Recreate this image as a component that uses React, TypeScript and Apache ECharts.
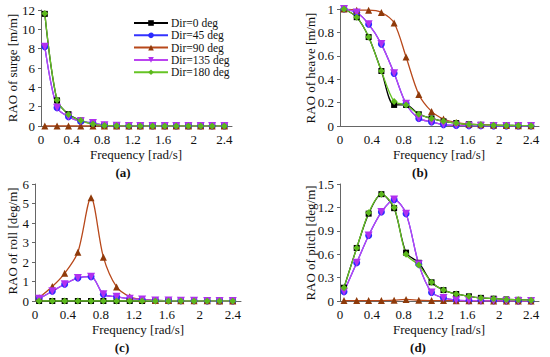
import React, { useEffect, useRef } from "react";
import * as echarts from "echarts";

const freq = [0.05, 0.21, 0.36, 0.52, 0.68, 0.83, 0.99, 1.15, 1.30, 1.46, 1.62, 1.77, 1.93, 2.09, 2.24, 2.40];
const dirNames = ["Dir=0 deg", "Dir=45 deg", "Dir=90 deg", "Dir=135 deg", "Dir=180 deg"];

// Surge RAO [m/m]
const surge0 = [11.6, 2.65, 1.22, 0.57, 0.22, 0.06, 0.02, 0.01, 0, 0, 0, 0, 0, 0, 0, 0];
const surge45 = [8.2, 1.9, 0.96, 0.48, 0.3, 0.07, 0.02, 0.01, 0, 0, 0, 0, 0, 0, 0, 0];
const surge90 = [0, 0, 0, 0, 0, 0, 0, 0, 0, 0, 0, 0, 0, 0, 0, 0];
const surge135 = [8.2, 1.88, 0.95, 0.48, 0.32, 0.07, 0.02, 0.01, 0, 0, 0, 0, 0, 0, 0, 0];
const surge180 = [11.65, 2.68, 1.2, 0.56, 0.2, 0.06, 0.02, 0.01, 0, 0, 0, 0, 0, 0, 0, 0];

// Heave RAO [m/m]
const heave0 = [1.0, 0.93, 0.76, 0.47, 0.18, 0.18, 0.1, 0.065, 0.04, 0.025, 0.015, 0.01, 0.007, 0.005, 0.004, 0.003];
const heave45 = [1.0, 0.97, 0.87, 0.7, 0.45, 0.19, 0.065, 0.035, 0.012, 0.005, 0.003, 0.002, 0.001, 0.001, 0, 0];
const heave90 = [1.0, 0.99, 0.99, 0.97, 0.88, 0.59, 0.27, 0.125, 0.06, 0.03, 0.015, 0.01, 0.006, 0.004, 0.003, 0.002];
const heave135 = [1.0, 0.97, 0.87, 0.7, 0.45, 0.19, 0.065, 0.035, 0.012, 0.005, 0.003, 0.002, 0.001, 0.001, 0, 0];
const heave180 = [1.0, 0.93, 0.76, 0.47, 0.21, 0.18, 0.1, 0.065, 0.04, 0.025, 0.015, 0.01, 0.007, 0.005, 0.004, 0.003];

// Roll RAO [deg/m]
const roll0 = [0, 0, 0, 0, 0, 0, 0, 0, 0, 0, 0, 0, 0, 0, 0, 0];
const roll45 = [0.12, 0.5, 0.86, 1.18, 1.25, 0.34, 0.22, 0.12, 0.08, 0.03, 0.02, 0.01, 0.01, 0, 0, 0];
const roll90 = [0.17, 0.74, 1.42, 2.5, 5.3, 2.25, 0.72, 0.22, 0.08, 0.03, 0.02, 0.01, 0.01, 0.01, 0, 0];
const roll135 = [0.12, 0.5, 0.86, 1.18, 1.25, 0.34, 0.22, 0.12, 0.08, 0.03, 0.02, 0.01, 0.01, 0, 0, 0];
const roll180 = [0, 0, 0, 0, 0, 0, 0, 0, 0, 0, 0, 0, 0, 0, 0, 0];

// Pitch RAO [deg/m]
const pitch0 = [0.17, 0.68, 1.12, 1.37, 1.19, 0.62, 0.49, 0.24, 0.14, 0.09, 0.06, 0.04, 0.03, 0.02, 0.015, 0.01];
const pitch45 = [0.12, 0.49, 0.84, 1.14, 1.3, 1.12, 0.47, 0.11, 0.04, 0.01, 0.005, 0.003, 0.002, 0.001, 0, 0];
const pitch90 = [0.005, 0.005, 0.005, 0.005, 0.01, 0.02, 0.01, 0.005, 0.005, 0.003, 0.002, 0.002, 0.001, 0.001, 0, 0];
const pitch135 = [0.12, 0.49, 0.84, 1.14, 1.3, 1.12, 0.47, 0.11, 0.04, 0.01, 0.005, 0.003, 0.002, 0.001, 0, 0];
const pitch180 = [0.17, 0.68, 1.13, 1.37, 1.2, 0.6, 0.46, 0.24, 0.14, 0.09, 0.06, 0.04, 0.03, 0.02, 0.015, 0.01];

const xTicks = ["0", "0.4", "0.8", "1.2", "1.6", "2", "2.4"];

const colors = ["#000000", "#3333ff", "#b8481a", "#bb44f0", "#66c425"];
const markerColors = ["#000000", "#2a2aff", "#8f3a0a", "#b030f0", "#5cb81c"];
const symbols = ["rect", "circle", "triangle", "path://M0,0 L10,0 L5,9 Z", "diamond"];

const FONT = "'Liberation Serif', 'Times New Roman', serif";

export default function App() {
  const ref = useRef<HTMLDivElement>(null);
  useEffect(() => {
    if (!ref.current) return;
    const chart = echarts.init(ref.current, undefined, { renderer: "svg" });
    const grids = [
      { left: 41, top: 10, width: 191, height: 116 },
      { left: 340, top: 9, width: 199, height: 117 },
      { left: 35, top: 184, width: 206, height: 117 },
      { left: 340, top: 184, width: 199, height: 117 },
    ];
    const yCfg = [
      { max: 12, interval: 2 },
      { max: 1, interval: 0.2 },
      { max: 6, interval: 1 },
      { max: 1.5, interval: 0.3 },
    ];
    const datasets = [
      [surge0, surge45, surge90, surge135, surge180],
      [heave0, heave45, heave90, heave135, heave180],
      [roll0, roll45, roll90, roll135, roll180],
      [pitch0, pitch45, pitch90, pitch135, pitch180],
    ];
    const axisLine = { show: true, lineStyle: { color: "#666666", width: 1 } };
    const labelStyle = { fontFamily: FONT, fontSize: 13, color: "#111" };
    const xAxis = grids.map((_, i) => ({
      type: "value" as const,
      gridIndex: i,
      min: 0,
      max: 2.5,
      interval: 0.4,
      splitLine: { show: false },
      axisTick: { show: false },
      axisLine: { ...axisLine, onZero: false },
      axisLabel: {
        ...labelStyle,
        margin: 7,
        showMaxLabel: false,
        formatter: (v: number) => {
          const s = xTicks.find((t) => Math.abs(parseFloat(t) - v) < 1e-6);
          return s ?? "";
        },
      },
    }));
    const yAxis = grids.map((_, i) => ({
      type: "value" as const,
      gridIndex: i,
      min: 0,
      max: yCfg[i].max,
      interval: yCfg[i].interval,
      splitLine: { show: false },
      axisTick: { show: true, length: 3, inside: false, lineStyle: { color: "#666666" } },
      axisLine,
      axisLabel: {
        ...labelStyle,
        margin: 6,
        formatter: (v: number) => String(parseFloat(v.toFixed(2))),
      },
    }));
    const series: any[] = [];
    datasets.forEach((set, gi) => {
      set.forEach((vals, si) => {
        series.push({
          type: "line",
          name: dirNames[si],
          xAxisIndex: gi,
          yAxisIndex: gi,
          data: freq.map((f, k) => [f, vals[k]]),
          smooth: 0.3,
          symbol: symbols[si],
          symbolSize: si === 3 ? 8 : si === 0 ? 6 : 7,
          showAllSymbol: true,
          color: colors[si],
          lineStyle: { width: 1.3, color: colors[si] },
          itemStyle: { color: markerColors[si] },
        });
      });
    });
    const textStyle = { fontFamily: FONT, fontSize: 13, fill: "#111" };
    const texts: any[] = [
      { x: 136, y: 154, text: "Frequency [rad/s]" },
      { x: 439, y: 154, text: "Frequency [rad/s]" },
      { x: 138, y: 329, text: "Frequency [rad/s]" },
      { x: 439, y: 329, text: "Frequency [rad/s]" },
    ].map((t) => ({
      type: "text",
      x: t.x,
      y: t.y,
      style: { ...textStyle, text: t.text, textAlign: "center", textVerticalAlign: "middle" },
    }));
    const ylabels = [
      { x: 12, y: 68, text: "RAO of surge [m/m]" },
      { x: 310, y: 68, text: "RAO of heave [m/m]" },
      { x: 12, y: 241, text: "RAO of roll [deg/m]" },
      { x: 310, y: 243, text: "RAO of pitch [deg/m]" },
    ].map((t) => ({
      type: "text",
      x: t.x,
      y: t.y,
      rotation: Math.PI / 2,
      style: { ...textStyle, text: t.text, textAlign: "center", textVerticalAlign: "middle" },
    }));
    const letters = [
      { x: 123, y: 172, text: "(a)" },
      { x: 420, y: 172, text: "(b)" },
      { x: 122, y: 347, text: "(c)" },
      { x: 418, y: 347, text: "(d)" },
    ].map((t) => ({
      type: "text",
      x: t.x,
      y: t.y,
      style: { ...textStyle, fontWeight: "bold", text: t.text, textAlign: "center", textVerticalAlign: "middle" },
    }));
    chart.setOption({
      animation: false,
      backgroundColor: "#ffffff",
      grid: grids,
      xAxis,
      yAxis,
      series,
      legend: {
        data: dirNames,
        orient: "vertical",
        left: 133,
        top: 17,
        itemWidth: 34,
        itemHeight: 7,
        itemGap: 0.3,
        textStyle: { fontFamily: FONT, fontSize: 11.5, lineHeight: 12, color: "#111", padding: [0, 0, 0, -2] },
        padding: 0,
      },
      graphic: [...texts, ...ylabels, ...letters],
    });
    return () => chart.dispose();
  }, []);
  return <div ref={ref} style={{ position: "fixed", left: 0, top: 0, width: 550, height: 357 }} />;
}
